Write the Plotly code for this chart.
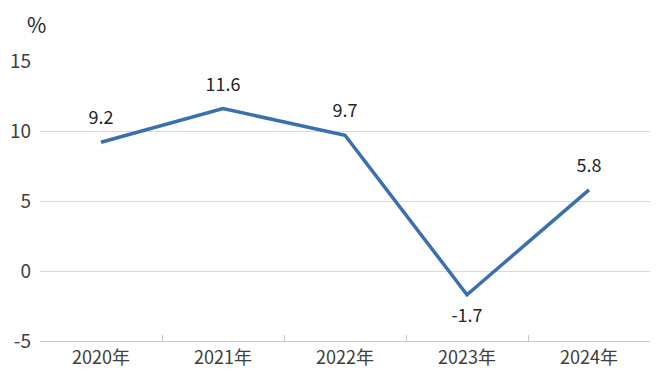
import plotly.graph_objects as go

years = ["2020年", "2021年", "2022年", "2023年", "2024年"]
values = [9.2, 11.6, 9.7, -1.7, 5.8]
labels = ["9.2", "11.6", "9.7", "-1.7", "5.8"]
positions = ["top center", "top center", "top center", "bottom center", "top center"]
y_ticks = [-5, 0, 5, 10, 15]
y_tick_labels = ["-5", "0", "5", "10", "15"]

font_family = "Noto Sans CJK SC, Noto Sans, sans-serif"

fig = go.Figure()
fig.add_trace(go.Scatter(
    x=years, y=values, mode="lines+markers+text",
    text=labels, textposition=positions,
    textfont=dict(size=18, color="#262626", family=font_family),
    line=dict(color="#3a6fb0", width=3.5),
    marker=dict(size=20, color="rgba(0,0,0,0)"),
    hoverinfo="skip", showlegend=False, cliponaxis=False,
))

fig.update_layout(
    width=653, height=373,
    margin=dict(l=32, r=11, t=53, b=40, autoexpand=False),
    paper_bgcolor="white", plot_bgcolor="white",
    font=dict(family=font_family, color="#404040", size=17),
    xaxis=dict(
        type="category", tickson="boundaries", ticks="inside", ticklen=6,
        tickcolor="#c8c8c8", showline=True, linecolor="#c8c8c8", linewidth=1,
        showgrid=False, tickfont=dict(size=18, color="#404040"),
        range=[-0.5, 4.5], automargin=False,
    ),
    yaxis=dict(
        range=[-5, 15], tickvals=y_ticks, ticktext=y_tick_labels, showgrid=True,
        gridcolor="#d9d9d9", gridwidth=1, zeroline=False, showline=False,
        ticks="", tickfont=dict(size=19, color="#404040"), automargin=False,
        ticklabelstandoff=8,
    ),
    annotations=[dict(
        text="%", xref="paper", yref="paper", x=-0.006, y=1.0, yshift=37,
        xanchor="center", yanchor="middle", showarrow=False,
        font=dict(size=21, color="#262626", family=font_family),
    )],
)

fig.write_html("out.html")
